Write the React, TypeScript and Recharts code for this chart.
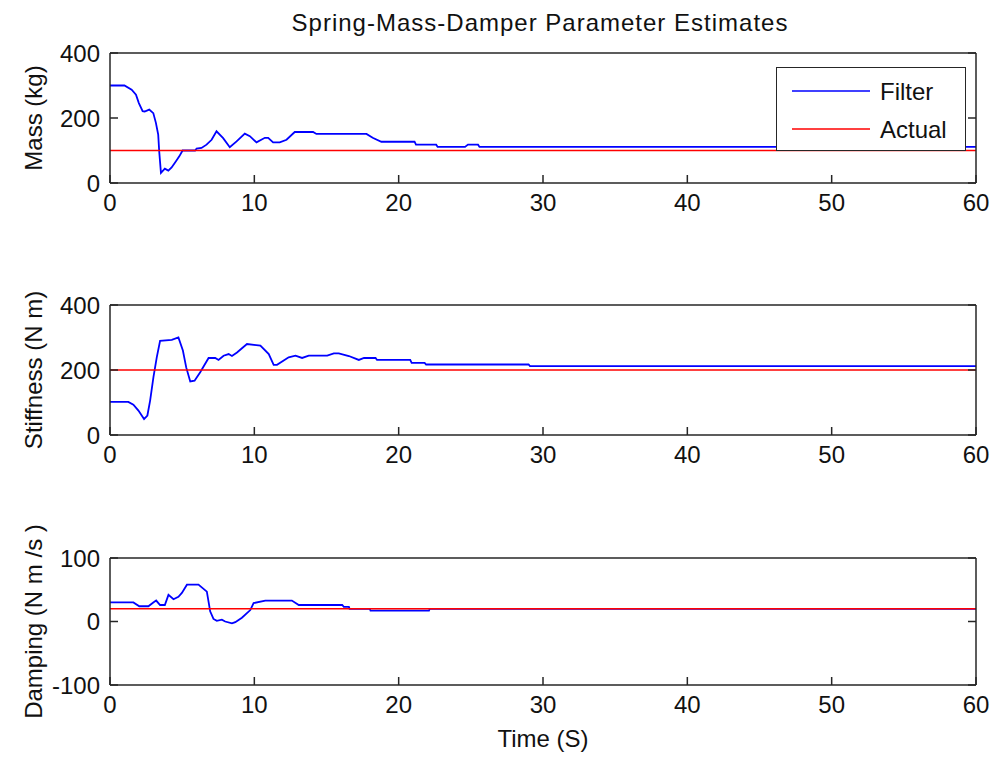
import React from 'react';
import { LineChart, Line, XAxis, YAxis, Legend } from 'recharts';

// time axis (seconds)
const timeTicks = [0, 10, 20, 30, 40, 50, 60];
const actualTime = [0, 60];
const seriesNames = ['Filter', 'Actual'];

// Mass (kg)
const massTime = [0, 1.0, 1.5, 1.8, 2.0, 2.26, 2.4, 2.72, 3.0, 3.18, 3.34, 3.41, 3.53, 3.8, 4.04, 4.27, 4.57, 4.8, 5.03, 5.9, 6.0, 6.34, 6.69, 7.04, 7.38, 7.84, 8.3, 8.77, 9.34, 9.69, 10.15, 10.73, 10.96, 11.3, 11.76, 12.23, 12.8, 14.07, 14.3, 17.77, 18.2, 18.8, 21.1, 21.2, 22.6, 22.7, 24.6, 24.8, 25.5, 25.6, 60];
const massFilter = [300, 300, 287, 272, 246, 221, 220, 226, 215, 185, 149, 97, 31, 44, 38, 48, 67, 82, 100, 100, 106, 108, 118, 133, 159, 138, 110, 128, 152, 144, 125, 139, 139, 125, 125, 133, 157, 157, 151, 151, 139, 127, 127, 118, 118, 111, 111, 118, 118, 111, 111];
const massActual = [100, 100];
const massTicks = [0, 200, 400];

// Stiffness (N m)
const stiffTime = [0, 1.27, 1.62, 1.97, 2.36, 2.59, 2.78, 3.01, 3.24, 3.47, 4.28, 4.74, 5.05, 5.28, 5.56, 5.86, 6.25, 6.83, 7.29, 7.52, 7.87, 8.22, 8.45, 8.8, 9.49, 10.42, 11.0, 11.34, 11.57, 12.38, 12.85, 13.31, 13.77, 15.05, 15.51, 15.85, 16.55, 17.24, 17.6, 18.4, 18.5, 20.8, 20.9, 21.8, 21.9, 29.0, 29.1, 60];
const stiffFilter = [102, 102, 93, 75, 49, 60, 106, 178, 239, 290, 293, 300, 260, 208, 165, 167, 193, 237, 237, 231, 244, 249, 243, 254, 280, 275, 249, 216, 216, 239, 244, 237, 244, 244, 251, 251, 243, 231, 237, 237, 231, 231, 222, 222, 217, 217, 212, 212];
const stiffActual = [200, 200];
const stiffTicks = [0, 200, 400];

// Damping (N m /s)
const dampTime = [0, 1.62, 2.03, 2.66, 3.0, 3.2, 3.47, 3.8, 4.05, 4.4, 4.74, 4.98, 5.33, 6.13, 6.71, 6.83, 6.94, 7.17, 7.4, 7.75, 7.98, 8.45, 8.68, 9.14, 9.72, 9.95, 10.76, 12.6, 13.08, 16.09, 16.2, 16.55, 16.6, 18.0, 18.05, 22.1, 22.15, 60];
const dampFilter = [30, 30, 24, 24, 30, 33, 26, 26, 42, 35, 39, 45, 58, 58, 47, 31, 16, 4, 1, 3, 0, -3, -1, 6, 18, 29, 33, 33, 26, 26, 23, 23, 20, 20, 17, 17, 20, 20];
const dampActual = [20, 20];
const dampTicks = [-100, 0, 100];

const FONT = '"Liberation Sans", Arial, Helvetica, sans-serif';
const INK = '#111';
const FRAME = '#262626';
const TICK = 8;
const WIDTH = 992;
const LEFT = 110;
const RIGHT = 16;

const rows = (t: number[], v: number[]) => t.map((time, i) => ({ time, value: v[i] }));

const textStyle = { fontFamily: FONT, fontSize: 24, fill: INK };

// axes are 1px thick, so tick props land on the plot frame
const BottomTick = (props: any) => {
  const { x, y, payload } = props;
  return (
    <g>
      <line x1={x} y1={y} x2={x} y2={y - TICK} stroke={FRAME} strokeWidth={1.5} />
      <text x={x} y={y + 28} textAnchor="middle" style={textStyle}>{payload.value}</text>
    </g>
  );
};

const TopTick = (props: any) => {
  const { x, y } = props;
  return <line x1={x} y1={y} x2={x} y2={y + TICK} stroke={FRAME} strokeWidth={1.5} />;
};

const LeftTick = (props: any) => {
  const { x, y, payload } = props;
  return (
    <g>
      <line x1={x} y1={y} x2={x + TICK} y2={y} stroke={FRAME} strokeWidth={1.5} />
      <text x={x - 10} y={y + 8.5} textAnchor="end" style={textStyle}>{payload.value}</text>
    </g>
  );
};

const RightTick = (props: any) => {
  const { x, y } = props;
  return <line x1={x} y1={y} x2={x - TICK} y2={y} stroke={FRAME} strokeWidth={1.5} />;
};

const renderLegend = (props: any) => {
  const items = [...(props.payload ?? [])].sort(
    (a: any, b: any) => seriesNames.indexOf(a.value) - seriesNames.indexOf(b.value)
  );
  return (
    <div style={{ width: 188, height: 82, border: `1.5px solid ${FRAME}`, background: '#fff' }}>
      <svg width={188} height={82} style={{ display: 'block' }}>
        {items.map((entry: any, i: number) => (
          <g key={entry.value}>
            <line x1={15} x2={93} y1={23 + i * 38} y2={23 + i * 38} stroke={entry.color} strokeWidth={1.6} />
            <text x={103} y={32 + i * 38} style={textStyle}>{entry.value}</text>
          </g>
        ))}
      </svg>
    </div>
  );
};

interface PanelProps {
  top: number;
  height: number;
  plotTop: number;
  plotBottom: number;
  time: number[];
  filter: number[];
  actual: number[];
  yTicks: number[];
  yLabel: string;
  title?: string;
  xLabel?: string;
  legend?: boolean;
}

function Panel({ top, height, plotTop, plotBottom, time, filter, actual, yTicks, yLabel, title, xLabel, legend }: PanelProps) {
  const yDomain = [yTicks[0], yTicks[yTicks.length - 1]];
  const midY = (plotTop + plotBottom) / 2;
  const midX = LEFT + (WIDTH - LEFT - RIGHT) / 2;
  const axisLine = { stroke: FRAME, strokeWidth: 1.5 };
  return (
    <div style={{ position: 'absolute', left: 0, top, width: WIDTH, height }}>
      <LineChart
        width={WIDTH}
        height={height}
        margin={{ top: plotTop - 1, right: RIGHT - 1, bottom: height - plotBottom - 1, left: LEFT - 1 }}
      >
        <XAxis
          xAxisId="b"
          dataKey="time"
          type="number"
          domain={[0, 60]}
          ticks={timeTicks}
          interval={0}
          allowDataOverflow
          height={1}
          tickSize={0}
          tickMargin={0}
          tickLine={false}
          axisLine={axisLine}
          tick={BottomTick}
          label={() =>
            xLabel ? (
              <text x={midX} y={plotBottom + 62} textAnchor="middle" style={textStyle}>{xLabel}</text>
            ) : null
          }
        />
        <XAxis
          xAxisId="t"
          orientation="top"
          type="number"
          domain={[0, 60]}
          ticks={timeTicks}
          interval={0}
          allowDataOverflow
          height={1}
          tickSize={0}
          tickMargin={0}
          tickLine={false}
          axisLine={axisLine}
          tick={TopTick}
          label={() =>
            title ? (
              <text x={midX - 3} y={31} textAnchor="middle" style={{ ...textStyle, letterSpacing: 1 }}>{title}</text>
            ) : null
          }
        />
        <YAxis
          yAxisId="l"
          type="number"
          domain={yDomain}
          ticks={yTicks}
          interval={0}
          allowDataOverflow
          width={1}
          tickSize={0}
          tickMargin={0}
          tickLine={false}
          axisLine={axisLine}
          tick={LeftTick}
          label={() => (
            <text x={42} y={midY} textAnchor="middle" transform={`rotate(-90, 42, ${midY})`} style={textStyle}>{yLabel}</text>
          )}
        />
        <YAxis
          yAxisId="r"
          orientation="right"
          type="number"
          domain={yDomain}
          ticks={yTicks}
          interval={0}
          allowDataOverflow
          width={1}
          tickSize={0}
          tickMargin={0}
          tickLine={false}
          axisLine={axisLine}
          tick={RightTick}
        />
        <Line
          xAxisId="b"
          yAxisId="l"
          name="Filter"
          data={rows(time, filter)}
          dataKey="value"
          type="linear"
          stroke="#0000ff"
          strokeWidth={1.8}
          dot={false}
          isAnimationActive={false}
        />
        <Line
          xAxisId="b"
          yAxisId="l"
          name="Actual"
          data={rows(actualTime, actual)}
          dataKey="value"
          type="linear"
          stroke="#ff0000"
          strokeWidth={1.6}
          dot={false}
          isAnimationActive={false}
        />
        {legend && (
          <Legend
            layout="horizontal"
            verticalAlign="middle"
            align="center"
            content={renderLegend}
            wrapperStyle={{ left: 776, top: 67, width: 191, height: 85 }}
          />
        )}
      </LineChart>
    </div>
  );
}

export default function App() {
  return (
    <div style={{ position: 'absolute', left: 0, top: 0, width: WIDTH, height: 757, background: '#fff' }}>
      <Panel
        top={0}
        height={250}
        plotTop={53}
        plotBottom={183}
        time={massTime}
        filter={massFilter}
        actual={massActual}
        yTicks={massTicks}
        yLabel="Mass (kg)"
        title="Spring-Mass-Damper Parameter Estimates"
        legend
      />
      <Panel
        top={250}
        height={250}
        plotTop={55}
        plotBottom={185}
        time={stiffTime}
        filter={stiffFilter}
        actual={stiffActual}
        yTicks={stiffTicks}
        yLabel="Stiffness (N m)"
      />
      <Panel
        top={500}
        height={257}
        plotTop={58}
        plotBottom={185}
        time={dampTime}
        filter={dampFilter}
        actual={dampActual}
        yTicks={dampTicks}
        yLabel="Damping (N m /s )"
        xLabel="Time (S)"
      />
    </div>
  );
}
